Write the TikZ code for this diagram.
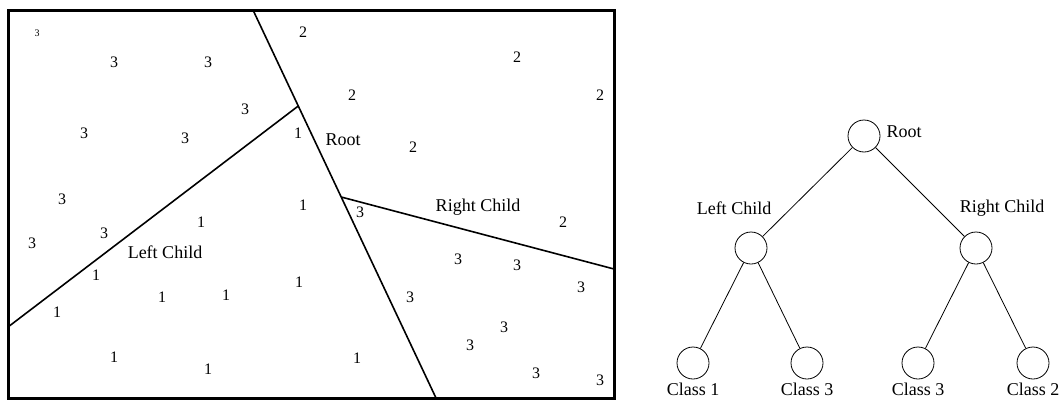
\documentclass[tikz,border=0pt]{standalone}
\usepackage{fontspec}
\setmainfont{Liberation Serif}
\usetikzlibrary{positioning, calc}

\begin{document}
\begin{tikzpicture}[
  x=1pt, y=-1pt,
  digit/.style={font=\fontsize{16}{16}\selectfont, inner sep=0pt},
  smalldigit/.style={font=\fontsize{10}{10}\selectfont, inner sep=0pt},
  lbl/.style={font=\fontsize{18}{18}\selectfont, inner sep=0pt},
  vertex/.style={circle, draw, line width=0.8pt, minimum size=32pt, inner sep=0pt},
  panel/.style={line width=3pt},
  splitline/.style={line width=1.6pt},
  branch/.style={line width=0.8pt}
]
  \useasboundingbox (0,0) rectangle (1063,407);

  % feature space
  \coordinate (nw) at (8,10);
  \coordinate (se) at (614,398);
  \draw[panel] (nw) rectangle (se);

  \coordinate (rtop) at (253,10);
  \coordinate (rbot) at (436,398);
  \coordinate (lsplit) at ($(rtop)!0.2474!(rbot)$);
  \coordinate (lend) at (8,327);
  \coordinate (rsplit) at ($(rtop)!0.482!(rbot)$);
  \coordinate (rend) at (614,269);

  \draw[splitline] (rtop) -- (rbot);
  \draw[splitline] (lsplit) -- (lend);
  \draw[splitline] (rsplit) -- (rend);

  \foreach \x/\y [count=\i] in {298/133, 303/205, 201/222, 96/275, 299/282,
      162/297, 226/295, 57/312, 114/357, 208/369, 357/358}
    \node[digit] (one\i) at (\x,\y) {1};
  \foreach \x/\y [count=\i] in {303/32, 517/57, 352/95, 600/95, 413/147, 563/222}
    \node[digit] (two\i) at (\x,\y) {2};
  \foreach \x/\y [count=\i] in {114/62, 208/62, 245/109, 84/133, 185/138,
      62/199, 104/233, 32/243, 360/212, 458/259, 517/265, 581/287, 410/297,
      504/327, 470/345, 536/373, 600/380}
    \node[digit] (three\i) at (\x,\y) {3};
  \node[smalldigit] (three0) at (37,33) {3};

  \node[lbl] (rootreg) at (343,140) {Root};
  \node[lbl] (leftreg) at (165,252) {Left Child};
  \node[lbl] (rightreg) at (478,207) {Right Child};

  % tree
  \node[vertex] (root) at (864,136) {};
  \node[vertex] (lc) at (751,248) {};
  \node[vertex] (rc) at (976,248) {};
  \node[vertex] (leaf1) at (693,363) {};
  \node[vertex] (leaf2) at (807,363) {};
  \node[vertex] (leaf3) at (918,363) {};
  \node[vertex] (leaf4) at (1033,363) {};

  \draw[branch] (root) -- (lc);
  \draw[branch] (root) -- (rc);
  \draw[branch] (lc) -- (leaf1);
  \draw[branch] (lc) -- (leaf2);
  \draw[branch] (rc) -- (leaf3);
  \draw[branch] (rc) -- (leaf4);

  \node[lbl, right=6pt of root, yshift=4pt] (rootlbl) {Root};
  \node[lbl] (lclbl) at (734,208) {Left Child};
  \node[lbl] (rclbl) at (1002,208) {Right Child};
  \node[lbl, below=3pt of leaf1] (cls1) {Class 1};
  \node[lbl, below=3pt of leaf2] (cls2) {Class 3};
  \node[lbl, below=3pt of leaf3] (cls3) {Class 3};
  \node[lbl, below=3pt of leaf4] (cls4) {Class 2};
\end{tikzpicture}
\end{document}
